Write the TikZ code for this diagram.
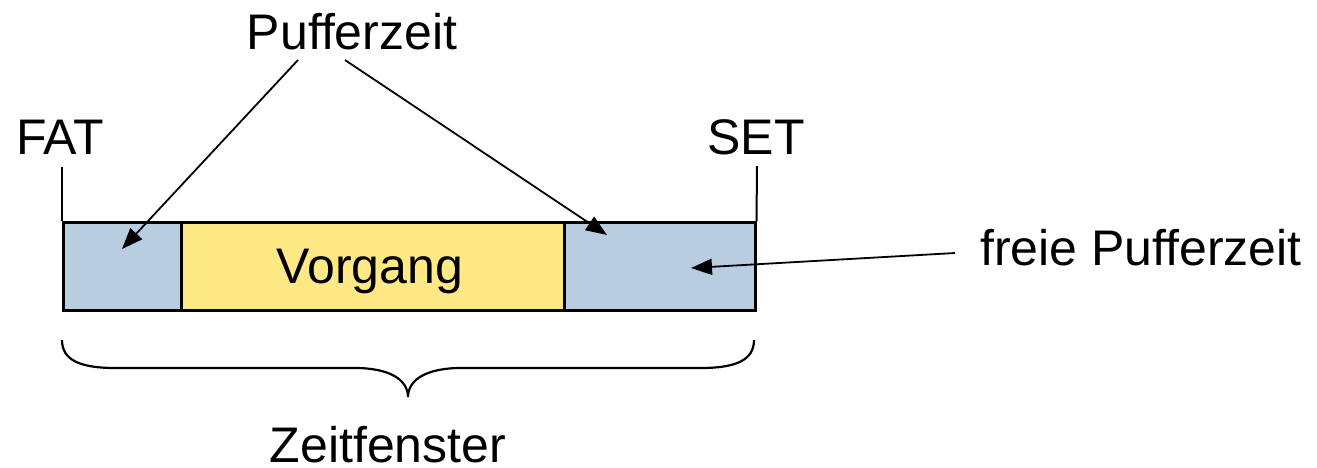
\documentclass[tikz,border=0pt]{standalone}
\usepackage{fontspec}
\setmainfont{Liberation Sans}
\usetikzlibrary{arrows.meta}
\definecolor{pblue}{RGB}{184,206,224}
\definecolor{pyellow}{RGB}{255,233,133}
\tikzset{
  lbl/.style={font=\fontsize{50}{60}\selectfont, inner sep=0pt, anchor=base},
  seg/.style={draw=black, line width=2.5pt, minimum height=88pt, inner sep=0pt, anchor=north west},
  arr/.style={draw=black, line width=1.8pt, -{Triangle[length=21pt,width=16pt]}},
  tick/.style={draw=black, line width=2pt},
  brace/.style={draw=black, line width=2.2pt}
}
\begin{document}
\begin{tikzpicture}[x=1pt,y=-1pt]
\useasboundingbox (0,0) rectangle (1317,467);
% segments
\node[seg, fill=pblue, minimum width=118pt] (b1) at (62,221) {};
\node[seg, fill=pyellow, minimum width=383pt] (b2) at (180,221) {};
\node[seg, fill=pblue, minimum width=191pt] (b3) at (563,221) {};
\node[lbl] (vorgang) at (370,283) {Vorgang};
% labels
\node[lbl] (puffer) at (352,49) {Pufferzeit};
\node[lbl] (fat) at (60,154) {FAT};
\node[lbl] (set) at (756,154) {SET};
\node[lbl] (freie) at (1141,265) {freie Pufferzeit};
\node[lbl] (zeit) at (388,462) {Zeitfenster};
% ticks
\coordinate (fattop) at (62,167);
\coordinate (settop) at (757,166);
\draw[tick] (fattop) -- (b1.north west);
\draw[tick] (settop) -- (b3.north east);
% arrows
\coordinate (ps1) at (298,60);
\coordinate (ps2) at (345,60);
\coordinate (fs) at (955,253);
\coordinate (t1) at (122,249);
\coordinate (t2) at (607,235);
\coordinate (t3) at (691,268);
\draw[arr] (ps1) -- (t1);
\draw[arr] (ps2) -- (t2);
\draw[arr] (fs) -- (t3);
% brace
\coordinate (bl) at (62,340);
\coordinate (br) at (754,340);
\coordinate (btip) at (408,397);
\draw[brace] (bl) .. controls (62,360) and (80,368) .. (115,368) -- (355,368)
  .. controls (390,368) and (408,380) .. (btip)
  .. controls (408,380) and (426,368) .. (461,368) -- (701,368)
  .. controls (736,368) and (754,360) .. (br);
\end{tikzpicture}
\end{document}
